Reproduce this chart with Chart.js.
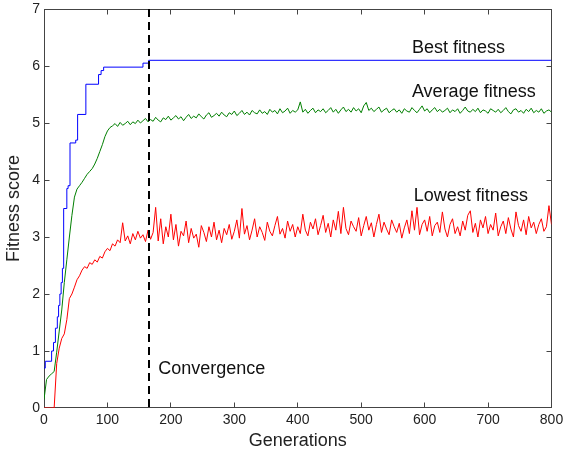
<!DOCTYPE html>
<html>
<head>
<meta charset="utf-8">
<script src="https://cdn.jsdelivr.net/npm/chart.js@4.4.1/dist/chart.umd.min.js"></script>
<style>
    html, body { margin: 0; padding: 0; background: #fff; }
    #wrap { width: 563px; height: 454px; }
</style>
</head>
<body>
<div id="wrap"><canvas id="fitness_chart" width="563" height="454"></canvas></div>
<script>
// Best fitness: stair steps (generation where a new value starts, value)
const bestGens   = [0, 2, 12, 15, 18, 21, 23, 25, 27, 29, 31, 36, 38, 41, 50, 53, 66, 86, 90, 94, 156, 165, 800];
const bestValues = [0.70, 0.82, 1.00, 1.15, 1.40, 1.60, 1.80, 2.00, 2.20, 2.45, 3.50, 3.85, 3.90, 4.65, 4.70, 5.15, 5.68, 5.85, 5.92, 5.98, 6.05, 6.10, 6.10];

// Average / lowest fitness, sampled every 4 generations (0..800)
const genStep = 4;
const avgFitness = [
    0.15, 0.50, 0.56, 0.60, 0.64, 0.98, 1.35, 1.72, 2.20, 2.60,
    3.00, 3.38, 3.70, 3.84, 3.90, 3.96, 4.03, 4.10, 4.15, 4.20,
    4.28, 4.38, 4.50, 4.62, 4.76, 4.86, 4.92, 4.95, 4.99, 4.94,
    5.01, 4.96, 4.99, 5.03, 4.97, 5.02, 4.99, 5.05, 5.00, 5.04,
    5.08, 5.02, 5.06, 5.03, 5.10, 5.05, 5.02, 5.09, 5.06, 5.12,
    5.05, 5.09, 5.13, 5.07, 5.11, 5.04, 5.10, 5.15, 5.08, 5.12,
    5.09, 5.16, 5.11, 5.07, 5.14, 5.18, 5.10, 5.13, 5.17, 5.12,
    5.19, 5.14, 5.11, 5.18, 5.15, 5.21, 5.13, 5.17, 5.22, 5.15,
    5.19, 5.14, 5.22, 5.18, 5.16, 5.23, 5.17, 5.20, 5.15, 5.24,
    5.19, 5.22, 5.16, 5.25, 5.18, 5.21, 5.26, 5.17, 5.22, 5.19,
    5.23, 5.37, 5.19, 5.24, 5.17, 5.22, 5.26, 5.18, 5.23, 5.20,
    5.25, 5.18, 5.22, 5.27, 5.19, 5.24, 5.17, 5.23, 5.28, 5.20,
    5.24, 5.19, 5.27, 5.21, 5.25, 5.18, 5.30, 5.36, 5.22, 5.26,
    5.20, 5.24, 5.28, 5.19, 5.23, 5.26, 5.18, 5.22, 5.25, 5.19,
    5.23, 5.17, 5.25, 5.21, 5.19, 5.27, 5.22, 5.18, 5.24, 5.30,
    5.21, 5.25, 5.18, 5.23, 5.27, 5.20, 5.24, 5.19, 5.22, 5.26,
    5.18, 5.23, 5.20, 5.25, 5.17, 5.22, 5.28, 5.21, 5.19, 5.24,
    5.20, 5.26, 5.18, 5.23, 5.21, 5.17, 5.25, 5.22, 5.19, 5.24,
    5.18, 5.22, 5.27, 5.20, 5.16, 5.23, 5.25, 5.19, 5.22, 5.17,
    5.24, 5.20, 5.26, 5.18, 5.22, 5.19, 5.25, 5.17, 5.21, 5.23,
    5.19
];
const lowFitness = [
    0.00, 0.00, 0.00, 0.00, 0.00, 0.78, 1.05, 1.22, 1.30, 1.55,
    1.92, 2.00, 2.12, 2.25, 2.32, 2.42, 2.48, 2.45, 2.55, 2.52,
    2.60, 2.56, 2.66, 2.63, 2.74, 2.80, 2.76, 2.88, 2.84, 2.95,
    2.90, 3.25, 2.93, 3.02, 2.88, 3.06, 2.95, 3.10, 2.98, 3.04,
    2.92, 3.12, 2.96, 3.08, 3.52, 2.93, 3.32, 2.88, 3.18, 3.00,
    3.40, 2.95, 3.22, 2.84, 3.10, 3.02, 3.28, 2.90, 3.15, 2.98,
    3.05, 2.82, 3.20, 3.08, 2.92, 3.18, 3.00, 3.26, 2.95, 3.12,
    2.90, 3.15, 3.04, 3.22, 2.96, 3.10, 3.30, 2.98, 3.50, 3.05,
    3.20, 2.95, 3.12, 3.32, 3.00, 3.18, 3.08, 2.94, 3.26, 3.10,
    3.02, 3.20, 3.36, 3.05, 3.15, 2.98, 3.28, 3.10, 3.22, 3.00,
    3.18, 3.06, 3.40, 3.12, 3.02, 3.26, 3.14, 3.32, 3.04, 3.20,
    3.38, 3.08, 3.24, 3.00, 3.30, 3.12, 3.45, 3.06, 3.52, 3.15,
    3.04, 3.28, 3.18, 3.10, 3.34, 3.02, 3.20, 3.36, 3.12, 3.25,
    3.00, 3.22, 3.40, 3.08, 3.26, 3.14, 3.04, 3.30, 3.18, 3.08,
    3.24, 2.98, 3.16, 3.30, 3.06, 3.46, 3.12, 3.52, 3.04, 3.22,
    3.30, 3.10, 3.36, 3.02, 3.20, 3.26, 3.08, 3.44, 3.14, 3.00,
    3.22, 3.32, 3.06, 3.18, 3.02, 3.28, 3.12, 3.38, 3.46, 3.08,
    3.24, 3.00, 3.30, 3.16, 3.36, 3.06, 3.22, 3.12, 3.42, 3.02,
    3.18, 3.28, 3.06, 3.34, 3.14, 3.00, 3.44, 3.20, 3.10, 3.30,
    3.04, 3.36, 3.16, 3.26, 3.06, 3.22, 3.32, 3.10, 3.18, 3.55,
    3.22
];

const xTicks = [0, 100, 200, 300, 400, 500, 600, 700, 800];
const yTicks = [0, 1, 2, 3, 4, 5, 6, 7];
const convergenceGen = 165;

// text labels placed in data coordinates (left edge, baseline)
const notes = [
    { text: 'Best fitness',    x: 580, y: 6.22 },
    { text: 'Average fitness', x: 580, y: 5.45 },
    { text: 'Lowest fitness',  x: 583, y: 3.64 },
    { text: 'Convergence',     x: 180, y: 0.59 },
];

const FONT = "'Liberation Sans', Arial, Helvetica, sans-serif";

const toPoints = (values) => values.map((v, i) => ({ x: i * genStep, y: v }));
const clamp = (v, lo, hi) => Math.max(lo, Math.min(hi, v));

// box, inward ticks, dashed convergence marker and the text notes
const decorations = {
    id: 'decorations',
    beforeDatasetsDraw(chart) {
        const { ctx, chartArea: a, scales: { x, y } } = chart;
        ctx.save();
        ctx.strokeStyle = '#444';
        ctx.lineWidth = 1;
        const L = Math.floor(a.left) + 0.5, R = Math.floor(a.right) + 0.5;
        const T = Math.floor(a.top) + 0.5, B = Math.floor(a.bottom) - 0.5;
        ctx.strokeRect(L, T, R - L, B - T);
        ctx.beginPath();
        xTicks.forEach(t => {
            const px = clamp(Math.floor(x.getPixelForValue(t)) + 0.5, L, R);
            ctx.moveTo(px, B); ctx.lineTo(px, B - 5);
            ctx.moveTo(px, T); ctx.lineTo(px, T + 5);
        });
        yTicks.forEach(t => {
            const py = clamp(Math.floor(y.getPixelForValue(t)) + 0.5, T, B);
            ctx.moveTo(L, py); ctx.lineTo(L + 5, py);
            ctx.moveTo(R, py); ctx.lineTo(R - 5, py);
        });
        ctx.stroke();
        ctx.restore();
    },
    afterDatasetsDraw(chart) {
        const { ctx, scales: { x, y } } = chart;
        ctx.save();
        // convergence marker
        const cx = Math.round(x.getPixelForValue(convergenceGen));
        ctx.strokeStyle = '#000';
        ctx.lineWidth = 2;
        ctx.setLineDash([8, 5]);
        ctx.beginPath();
        ctx.moveTo(cx, y.getPixelForValue(7));
        ctx.lineTo(cx, y.getPixelForValue(0));
        ctx.stroke();
        ctx.setLineDash([]);

        ctx.fillStyle = '#111';
        ctx.font = '18px ' + FONT;
        ctx.textAlign = 'left';
        ctx.textBaseline = 'alphabetic';
        notes.forEach(n => {
            ctx.fillText(n.text, x.getPixelForValue(n.x), y.getPixelForValue(n.y));
        });
        ctx.restore();
    }
};

new Chart(document.getElementById('fitness_chart'), {
    type: 'line',
    data: {
        datasets: [
            {
                label: 'Best fitness',
                data: bestGens.map((g, i) => ({ x: g, y: bestValues[i] })),
                borderColor: '#0000ff',
                borderWidth: 1,
                stepped: 'before',
                pointRadius: 0,
            },
            {
                label: 'Average fitness',
                data: toPoints(avgFitness),
                borderColor: '#007f00',
                borderWidth: 1,
                pointRadius: 0,
                tension: 0,
            },
            {
                label: 'Lowest fitness',
                data: toPoints(lowFitness),
                borderColor: '#ff0000',
                borderWidth: 1,
                pointRadius: 0,
                tension: 0,
            },
        ]
    },
    options: {
        responsive: false,
        animation: false,
        events: [],
        layout: { padding: { top: 9, right: 11.5, left: 0, bottom: 0 } },
        plugins: {
            legend: { display: false },
            tooltip: { enabled: false },
        },
        scales: {
            x: {
                type: 'linear',
                min: 0,
                max: 800,
                grid: { display: false, drawTicks: false },
                border: { display: false },
                afterBuildTicks: (scale) => { scale.ticks = xTicks.map(v => ({ value: v })); },
                afterFit: (scale) => {
                    scale.height = 46;
                    scale.paddingLeft = 0;
                    scale.paddingRight = 0;
                },
                ticks: {
                    padding: 4,
                    maxRotation: 0,
                    autoSkip: false,
                    color: '#222',
                    font: { family: FONT, size: 14 },
                },
                title: {
                    display: true,
                    text: 'Generations',
                    color: '#222',
                    font: { family: FONT, size: 18 },
                    padding: { top: 0, bottom: 2 },
                },
            },
            y: {
                min: 0,
                max: 7,
                grid: { display: false, drawTicks: false },
                border: { display: false },
                afterBuildTicks: (scale) => { scale.ticks = yTicks.map(v => ({ value: v })); },
                afterFit: (scale) => {
                    scale.width = 44;
                    scale.paddingTop = 0;
                    scale.paddingBottom = 0;
                },
                ticks: {
                    padding: 4,
                    color: '#222',
                    font: { family: FONT, size: 14 },
                },
                title: {
                    display: true,
                    text: 'Fitness score',
                    color: '#222',
                    font: { family: FONT, size: 18 },
                    padding: { top: 3, bottom: 0 },
                },
            }
        }
    },
    plugins: [decorations]
});
</script>
</body>
</html>
